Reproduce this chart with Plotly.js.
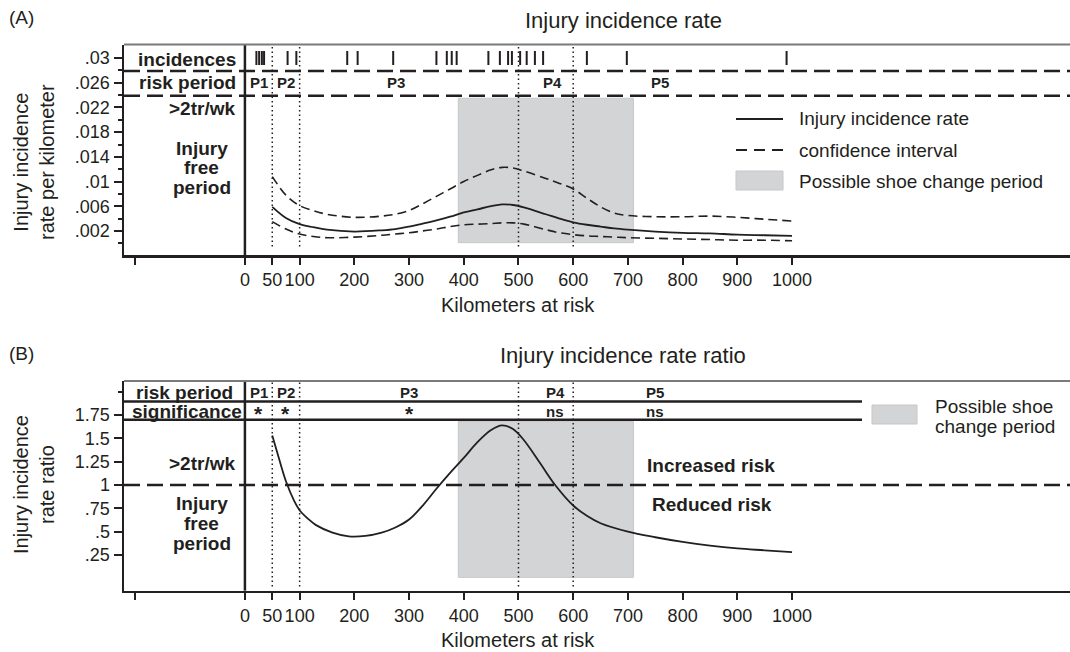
<!DOCTYPE html>
<html>
<head>
<meta charset="utf-8">
<script src="https://cdn.plot.ly/plotly-3.0.1.min.js"></script>
<style>html,body{margin:0;padding:0;background:#fff;}#chart{width:1070px;height:652px;}</style>
</head>
<body>
<div id="chart"></div>
<script>
// ---------- DATA ----------
const kmTickVals = [-200, 0, 50, 100, 200, 300, 400, 500, 600, 700, 800, 900, 1000];
const kmTickText = ['', '0', '50', '100', '200', '300', '400', '500', '600', '700', '800', '900', '1000'];

const rateTickVals = [0.002, 0.006, 0.01, 0.014, 0.018, 0.022, 0.026, 0.03];
const rateTickText = ['.002', '.006', '.01', '.014', '.018', '.022', '.026', '.03'];
const rateMinorTicks = [0, 0.004, 0.008, 0.012, 0.016, 0.02, 0.024, 0.028];

const irrTickVals = [0.25, 0.5, 0.75, 1, 1.25, 1.5, 1.75];
const irrTickText = ['.25', '.5', '.75', '1', '1.25', '1.5', '1.75'];
const irrMinorTicks = [2];

const rateKm  = [50, 75, 100, 125, 150, 200, 250, 275, 300, 325, 350, 375, 400, 425, 450, 470, 490, 510, 550, 575, 600, 625, 650, 675, 700, 750, 800, 850, 900, 950, 1000];
const rate    = [0.0059, 0.0041, 0.0031, 0.0026, 0.0022, 0.0019, 0.0021, 0.0023, 0.0027, 0.0032, 0.0037, 0.0043, 0.0050, 0.0055, 0.0060, 0.0063, 0.0062, 0.0058, 0.0047, 0.0040, 0.0034, 0.0030, 0.0027, 0.0024, 0.0022, 0.0019, 0.0017, 0.0016, 0.0014, 0.0013, 0.0012];
const ciHigh  = [0.0108, 0.0078, 0.0061, 0.0053, 0.0047, 0.0042, 0.0044, 0.0047, 0.0053, 0.0064, 0.0076, 0.0088, 0.0100, 0.0110, 0.0119, 0.0123, 0.0122, 0.0117, 0.0105, 0.0097, 0.0088, 0.0073, 0.0059, 0.0049, 0.0045, 0.0043, 0.0043, 0.0044, 0.0042, 0.0039, 0.0036];
const ciLow   = [0.0035, 0.0023, 0.0015, 0.0011, 0.0009, 0.0010, 0.0013, 0.0015, 0.0017, 0.0020, 0.0023, 0.0027, 0.0030, 0.0031, 0.0032, 0.0033, 0.0033, 0.0031, 0.0022, 0.0017, 0.0014, 0.0012, 0.0011, 0.0010, 0.0009, 0.0008, 0.0007, 0.0006, 0.0005, 0.0005, 0.0004];

const irrKm = [50, 60, 75, 90, 100, 115, 130, 160, 190, 220, 250, 275, 300, 325, 350, 375, 400, 425, 450, 470, 490, 510, 540, 567, 600, 625, 650, 700, 750, 800, 850, 900, 950, 1000];
const irr   = [1.53, 1.33, 1.04, 0.83, 0.73, 0.64, 0.57, 0.49, 0.45, 0.455, 0.49, 0.545, 0.63, 0.78, 0.96, 1.13, 1.29, 1.46, 1.59, 1.64, 1.60, 1.48, 1.23, 1.00, 0.78, 0.67, 0.59, 0.50, 0.44, 0.39, 0.35, 0.32, 0.30, 0.28];

const incidenceKm = [21, 26, 31, 35, 78, 94, 187, 206, 271, 350, 369, 378, 387, 445, 466, 481, 488, 503, 515, 530, 545, 625, 698, 990];

const periodBounds = [50, 100, 500, 600];
const periodLabels = ['P1', 'P2', 'P3', 'P4', 'P5'];
const periodLabelKmA = [25, 75, 277, 563, 759];
const periodLabelKmB = [25, 75, 300, 567, 750];
const significance = ['*', '*', '*', 'ns', 'ns'];
const shoeChange = [390, 710];
const irrReference = 1;

// ---------- STYLE ----------
const FONT = 'Liberation Sans, Arial, Helvetica, sans-serif';
const INK = '#231f20';
const GREY = '#d3d4d6';
const W = 1070, H = 652, L = 124;
const px2x = p => (p - L) / (W - L);
const py2y = p => 1 - p / H;

// Ranges / row positions (axis units)
const xRange = [-221, 1508];
const yRangeA = [-0.0019, 0.0322];
const yRangeB = [-0.133, 2.115];
const rowA = {incid: 0.0300, incidText: 0.0297, sep1: 0.0279, risk: 0.0261, sep2: 0.0239, over: 0.0218, free: [0.0154, 0.0122, 0.0091]};
const rowB = {risk: 1.995, sep1: 1.894, sig: 1.79, sigStar: 1.765, sep2: 1.70, over: 1.232, free: [0.804, 0.589, 0.375], inc: 1.214, red: 0.796};

const SM = {shape: 'spline', smoothing: 1};
const traces = [
  {x: rateKm, y: ciHigh, type: 'scatter', mode: 'lines', line: Object.assign({color: INK, width: 1.6, dash: '9px,5px'}, SM), xaxis: 'x', yaxis: 'y', hoverinfo: 'skip'},
  {x: rateKm, y: ciLow, type: 'scatter', mode: 'lines', line: Object.assign({color: INK, width: 1.6, dash: '9px,5px'}, SM), xaxis: 'x', yaxis: 'y', hoverinfo: 'skip'},
  {x: rateKm, y: rate, type: 'scatter', mode: 'lines', line: Object.assign({color: INK, width: 1.8}, SM), xaxis: 'x', yaxis: 'y', hoverinfo: 'skip'},
  {x: incidenceKm, y: incidenceKm.map(() => rowA.incid), type: 'scatter', mode: 'markers', marker: {symbol: 'line-ns', size: 10, line: {color: INK, width: 2}}, xaxis: 'x', yaxis: 'y', hoverinfo: 'skip'},
  {x: irrKm, y: irr, type: 'scatter', mode: 'lines', line: Object.assign({color: INK, width: 1.8}, SM), xaxis: 'x2', yaxis: 'y2', hoverinfo: 'skip'}
];

const shapes = [];
const annotations = [];

function panelShapes(xr, yr, rows, yMin) {
  shapes.push({type: 'rect', xref: xr, yref: yr, x0: shoeChange[0], x1: shoeChange[1], y0: rows.rectLo, y1: rows.rectHi, fillcolor: GREY, line: {color: '#c6c7c9', width: 1}, layer: 'below'});
  periodBounds.forEach(b => shapes.push({type: 'line', xref: xr, yref: yr + ' domain', x0: b, x1: b, y0: yMin, y1: 1, line: {color: INK, width: 1.5, dash: '1.5px,3px'}}));
  shapes.push({type: 'line', xref: xr, yref: yr + ' domain', x0: 0, x1: 0, y0: 0, y1: 1, line: {color: INK, width: 2.5}});
  shapes.push({type: 'line', xref: 'paper', yref: yr + ' domain', x0: 0, x1: 1, y0: 1, y1: 1, line: {color: '#7a7a7a', width: 2}});
}

// Panel A
panelShapes('x', 'y', {rectLo: 0.0001, rectHi: 0.0235}, 0.04);
[rowA.sep1, rowA.sep2].forEach(v => shapes.push({type: 'line', xref: 'paper', yref: 'y', x0: 0, x1: 1, y0: v, y1: v, line: {color: INK, width: 2.5, dash: '16px,7px'}}));
// Panel B
panelShapes('x2', 'y2', {rectLo: 0.01, rectHi: 1.68}, 0.02);
[rowB.sep1, rowB.sep2].forEach(v => shapes.push({type: 'line', xref: 'paper', yref: 'y2', x0: 0, x1: px2x(862), y0: v, y1: v, line: {color: INK, width: 2.5}}));
shapes.push({type: 'line', xref: 'paper', yref: 'y2', x0: 0, x1: 1, y0: irrReference, y1: irrReference, line: {color: INK, width: 2.5, dash: '16px,7px'}});

// Legend keys (panel A)
shapes.push({type: 'line', xref: 'paper', yref: 'paper', x0: px2x(736), x1: px2x(783), y0: py2y(119), y1: py2y(119), line: {color: INK, width: 2}});
shapes.push({type: 'line', xref: 'paper', yref: 'paper', x0: px2x(736), x1: px2x(783), y0: py2y(150), y1: py2y(150), line: {color: INK, width: 2, dash: '11px,7px'}});
shapes.push({type: 'rect', xref: 'paper', yref: 'paper', x0: px2x(736), x1: px2x(783), y0: py2y(190), y1: py2y(171), fillcolor: GREY, line: {color: '#c6c7c9', width: 1}});
// Legend key (panel B)
shapes.push({type: 'rect', xref: 'paper', yref: 'paper', x0: px2x(872), x1: px2x(917), y0: py2y(424), y1: py2y(405), fillcolor: GREY, line: {color: '#c6c7c9', width: 1}});

function ann(text, x, y, opts) {
  annotations.push(Object.assign({text: text, x: x, y: y, showarrow: false, font: {family: FONT, size: 19, color: INK}, xanchor: 'center', yanchor: 'middle'}, opts || {}));
}
const bold = (s) => ({family: FONT, size: s, color: INK, weight: 'bold'});
const reg = (s) => ({family: FONT, size: s, color: INK});

ann('(A)', px2x(7), py2y(18), {xref: 'paper', yref: 'paper', xanchor: 'left', font: reg(19)});
ann('(B)', px2x(7), py2y(353), {xref: 'paper', yref: 'paper', xanchor: 'left', font: reg(19)});
ann('Injury incidence rate', px2x(623), py2y(20), {xref: 'paper', yref: 'paper', font: reg(22)});
ann('Injury incidence rate ratio', px2x(623), py2y(355), {xref: 'paper', yref: 'paper', font: reg(22)});
ann('Kilometers at risk', px2x(518), py2y(305), {xref: 'paper', yref: 'paper', font: reg(20)});
ann('Kilometers at risk', px2x(518), py2y(640), {xref: 'paper', yref: 'paper', font: reg(20)});
ann('Injury incidence<br>rate per kilometer', px2x(34), py2y(162), {xref: 'paper', yref: 'paper', textangle: -90, font: reg(20)});
ann('Injury incidence<br>rate ratio', px2x(34), py2y(485), {xref: 'paper', yref: 'paper', textangle: -90, font: reg(20)});

ann('incidences', -12, rowA.incidText, {xref: 'x', yref: 'y', xanchor: 'right', font: bold(19)});
ann('risk period', -12, rowA.risk, {xref: 'x', yref: 'y', xanchor: 'right', font: bold(19)});
ann('>2tr/wk', -14, rowA.over, {xref: 'x', yref: 'y', xanchor: 'right', font: bold(19)});
['Injury', 'free', 'period'].forEach((t, i) => ann(t, -79, rowA.free[i], {xref: 'x', yref: 'y', font: bold(19)}));
periodLabels.forEach((p, i) => ann(p, periodLabelKmA[i], rowA.risk, {xref: 'x', yref: 'y', font: bold(15)}));

ann('risk period', -18, rowB.risk, {xref: 'x2', yref: 'y2', xanchor: 'right', font: bold(19)});
ann('significance', -1, rowB.sig, {xref: 'x2', yref: 'y2', xanchor: 'right', font: bold(19)});
ann('>2tr/wk', -14, rowB.over, {xref: 'x2', yref: 'y2', xanchor: 'right', font: bold(19)});
['Injury', 'free', 'period'].forEach((t, i) => ann(t, -79, rowB.free[i], {xref: 'x2', yref: 'y2', font: bold(19)}));
periodLabels.forEach((p, i) => ann(p, periodLabelKmB[i], rowB.risk, {xref: 'x2', yref: 'y2', font: bold(15)}));
significance.forEach((s, i) => ann(s, periodLabelKmB[i], s === '*' ? rowB.sigStar : rowB.sig, {xref: 'x2', yref: 'y2', font: bold(s === '*' ? 21 : 15)}));
ann('Increased risk', 731, rowB.inc, {xref: 'x2', yref: 'y2', xanchor: 'left', font: bold(19)});
ann('Reduced risk', 740, rowB.red, {xref: 'x2', yref: 'y2', xanchor: 'left', font: bold(19)});

ann('Injury incidence rate', px2x(797), py2y(119), {xref: 'paper', yref: 'paper', xanchor: 'left', font: reg(19)});
ann('confidence interval', px2x(797), py2y(150), {xref: 'paper', yref: 'paper', xanchor: 'left', font: reg(19)});
ann('Possible shoe change period', px2x(797), py2y(181), {xref: 'paper', yref: 'paper', xanchor: 'left', font: reg(19)});
ann('Possible shoe', px2x(933), py2y(406), {xref: 'paper', yref: 'paper', xanchor: 'left', font: reg(19)});
ann('change period', px2x(933), py2y(426), {xref: 'paper', yref: 'paper', xanchor: 'left', font: reg(19)});

const xAxisBase = {
  range: xRange, tickmode: 'array', tickvals: kmTickVals, ticktext: kmTickText, tickangle: 0,
  showline: true, linecolor: INK, linewidth: 2.5, ticks: 'outside', ticklen: 7, tickwidth: 2, tickcolor: INK,
  tickfont: {family: FONT, size: 18, color: INK}, showgrid: false, zeroline: false, fixedrange: true
};
const yAxisBase = {
  tickmode: 'array', showline: true, linecolor: INK, linewidth: 2.5, ticks: 'outside', ticklen: 8, tickwidth: 2,
  tickcolor: INK, tickfont: {family: FONT, size: 18, color: INK}, showgrid: false, zeroline: false, fixedrange: true
};

const layout = {
  width: W, height: H,
  margin: {l: L, r: 0, t: 0, b: 0},
  paper_bgcolor: '#fff', plot_bgcolor: 'rgba(0,0,0,0)',
  showlegend: false,
  xaxis: Object.assign({}, xAxisBase, {anchor: 'y', domain: [0, 1]}),
  yaxis: Object.assign({}, yAxisBase, {anchor: 'x', domain: [1 - 255 / H, 1 - 44.5 / H], range: yRangeA,
    tickvals: rateTickVals, ticktext: rateTickText,
    minor: {tickvals: rateMinorTicks, ticks: 'outside', ticklen: 4, tickwidth: 2, tickcolor: INK}}),
  xaxis2: Object.assign({}, xAxisBase, {anchor: 'y2', domain: [0, 1]}),
  yaxis2: Object.assign({}, yAxisBase, {anchor: 'x2', domain: [1 - 590.7 / H, 1 - 381 / H], range: yRangeB,
    tickvals: irrTickVals, ticktext: irrTickText,
    minor: {tickvals: irrMinorTicks, ticks: 'outside', ticklen: 4, tickwidth: 2, tickcolor: INK}}),
  shapes: shapes,
  annotations: annotations
};

Plotly.newPlot('chart', traces, layout, {staticPlot: true, displayModeBar: false});
</script>
</body>
</html>
